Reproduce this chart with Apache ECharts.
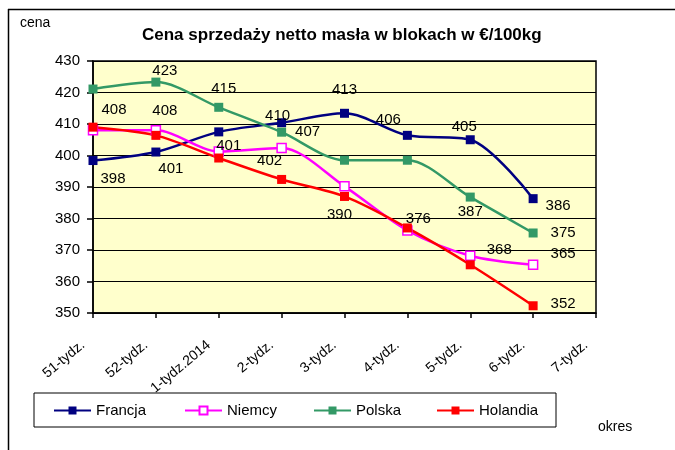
<!DOCTYPE html>
<html>
<head>
<meta charset="utf-8">
<script src="https://cdn.jsdelivr.net/npm/echarts@6/dist/echarts.min.js"></script>
<style>
  html, body { margin: 0; padding: 0; background: #fff; }
  #chart { width: 675px; height: 450px; }
</style>
</head>
<body>
<div id="chart"></div>
<script>
// dane
const weeks = ['51-tydz.', '52-tydz.', '1-tydz.2014', '2-tydz.', '3-tydz.', '4-tydz.', '5-tydz.', '6-tydz.', '7-tydz.']
const francja = [398.4, 401.1, 407.5, 410.4, 413.4, 406.4, 405.0, 386.3]
const niemcy = [408.0, 408.0, 401.3, 402.4, 390.2, 376.2, 368.2, 365.3]
const polska = [421.1, 423.3, 415.3, 407.4, 398.5, 398.5, 386.8, 375.4]
const holandia = [409.0, 406.4, 399.2, 392.4, 387.0, 377.0, 365.3, 352.3]
const yTicks = [350, 360, 370, 380, 390, 400, 410, 420, 430]

// które etykiety są widoczne i gdzie (przesunięcie od punktu)
const labelSpec = {
  Francja: { 0: [20, 18], 1: [15, 17], 3: [-4, -7], 4: [0, -23], 5: [-19, -15], 6: [-6, -13], 7: [25, 7] },
  Niemcy: { 0: [21, -20], 1: [9, -19], 2: [10, -6], 3: [-12, 13], 4: [-5, 28], 5: [11, -12], 6: [29, -6], 7: [30, -11] },
  Polska: { 1: [9, -11], 2: [5, -18], 3: [26, 0], 6: [0, 15], 7: [30, 0] },
  Holandia: { 7: [30, -2] }
}

const font = 'Liberation Sans, Arial, sans-serif'

function buildData(name, values) {
  return values.map((v, i) => {
    const off = labelSpec[name][i]
    if (!off) return { value: v, label: { show: false } }
    return {
      value: v,
      label: {
        show: true,
        position: 'inside',
        offset: off,
        align: 'center',
        verticalAlign: 'middle',
        formatter: p => Math.round(p.value)
      }
    }
  })
}

function makeSeries(name, values, color, hollow) {
  return {
    name: name,
    type: 'line',
    data: buildData(name, values),
    smooth: 0.3,
    symbol: 'rect',
    symbolSize: 9,
    lineStyle: { color: color, width: 2.5 },
    itemStyle: hollow
      ? { color: '#FFFFFF', borderColor: color, borderWidth: 1.5 }
      : { color: color },
    label: { color: '#000', fontSize: 15, fontFamily: font },
    emphasis: { disabled: true },
    z: 3
  }
}

const chart = echarts.init(document.getElementById('chart'))

const option = {
  animation: false,
  backgroundColor: '#fff',
  textStyle: { fontFamily: font },
  title: {
    text: 'Cena sprzedaży netto masła w blokach w €/100kg',
    left: 137,
    top: 22,
    textStyle: { fontSize: 17, fontWeight: 'bold', color: '#000', fontFamily: font }
  },
  legend: {
    left: 34,
    top: 393,
    orient: 'horizontal',
    borderColor: '#000',
    borderWidth: 1,
    padding: [10, 15, 9, 19],
    itemGap: 0,
    itemWidth: 37,
    itemHeight: 10,
    textStyle: { fontSize: 15, color: '#000', fontFamily: font, lineHeight: 12 },
    data: [
      { name: 'Francja', textStyle: { width: 88 } },
      { name: 'Niemcy', textStyle: { width: 86 } },
      { name: 'Polska', textStyle: { width: 80 } },
      { name: 'Holandia', textStyle: { width: 62 } }
    ]
  },
  grid: {
    left: 93,
    right: 79,
    top: 61,
    bottom: 137,
    show: true,
    backgroundColor: '#FFFFCC',
    borderColor: '#000',
    borderWidth: 1.5
  },
  xAxis: {
    type: 'category',
    data: weeks,
    boundaryGap: false,
    axisLine: { lineStyle: { color: '#000', width: 1.5 } },
    axisTick: { show: true, length: 5, lineStyle: { color: '#000', width: 1.5 } },
    axisLabel: {
      rotate: 40,
      margin: 22,
      padding: [0, 13, 0, 0],
      interval: 0,
      fontSize: 14,
      color: '#000',
      fontFamily: font
    },
    splitLine: { show: false }
  },
  yAxis: {
    type: 'value',
    min: yTicks[0],
    max: yTicks[yTicks.length - 1],
    interval: 10,
    axisLine: { show: true, lineStyle: { color: '#000', width: 1.5 } },
    axisTick: { show: true, length: 6, lineStyle: { color: '#000', width: 1.5 } },
    axisLabel: { margin: 13, fontSize: 15, color: '#000', fontFamily: font },
    splitLine: { show: true, lineStyle: { color: '#000', width: 1.2 } }
  },
  series: [
    makeSeries('Francja', francja, '#000080', false),
    makeSeries('Niemcy', niemcy, '#FF00FF', true),
    makeSeries('Polska', polska, '#339966', false),
    makeSeries('Holandia', holandia, '#FF0000', false)
  ],
  graphic: [
    { type: 'line', shape: { x1: 8, y1: 9.5, x2: 675, y2: 9.5 }, style: { stroke: '#000', lineWidth: 1.5 } },
    { type: 'line', shape: { x1: 8.5, y1: 9, x2: 8.5, y2: 450 }, style: { stroke: '#000', lineWidth: 1.5 } },
    { type: 'text', left: 20, top: 16, style: { text: 'cena', fontSize: 14, fill: '#000', fontFamily: font } },
    { type: 'text', left: 598, top: 420, style: { text: 'okres', fontSize: 14, fill: '#000', fontFamily: font } }
  ]
}

chart.setOption(option)
</script>
</body>
</html>
